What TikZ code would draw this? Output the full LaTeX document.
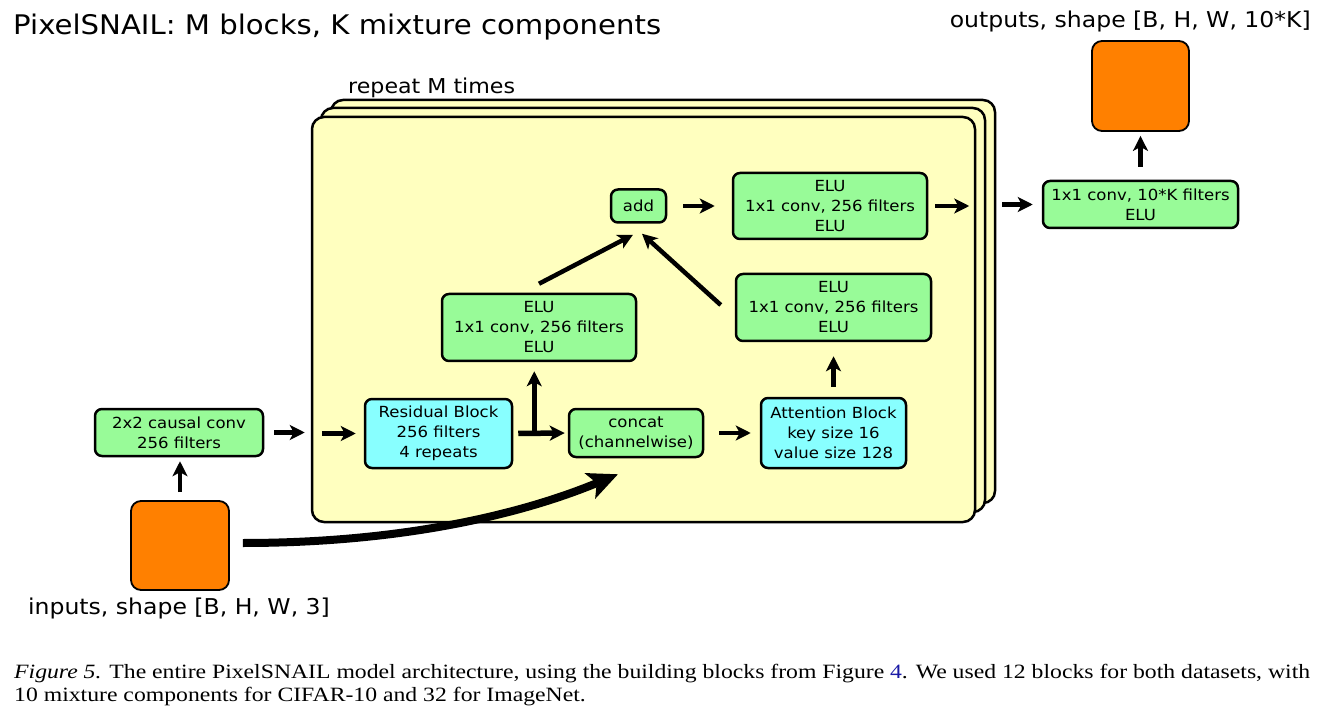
\documentclass[tikz,border=0pt]{standalone}
\usepackage{fontspec}
\usepackage{graphicx}
\setmainfont{Liberation Serif}
\newfontfamily\dv[FakeStretch=1.08]{DejaVu Sans}
\usetikzlibrary{arrows.meta,calc}
\definecolor{greenc}{HTML}{98FB98}
\definecolor{cyanc}{HTML}{88FFFF}
\definecolor{yellowc}{HTML}{FFFFBF}
\definecolor{orangec}{HTML}{FF8000}
\definecolor{linkblue}{HTML}{1A1AA6}
\newsavebox\capboxA
\begin{document}
\sbox\capboxA{\fontsize{20.3}{24}\selectfont\textit{Figure 5.} The entire PixelSNAIL model architecture, using the building blocks from Figure \textcolor{linkblue}{4}. We used 12 blocks for both datasets, with}%
\pgfmathsetmacro\capf{1296/\wd\capboxA}%
\begin{tikzpicture}[x=1pt,y=-1pt,
  box/.style={draw=black,line width=2.5pt,rounded corners=7pt,inner sep=0pt,align=center,font=\dv\fontsize{15.3}{20}\selectfont},
  gbox/.style={box,fill=greenc},
  cbox/.style={box,fill=cyanc},
  obox/.style={draw=black,line width=1.8pt,rounded corners=10pt,fill=orangec,inner sep=0pt},
  layer/.style={draw=black,line width=2.5pt,rounded corners=12pt,fill=yellowc,inner sep=0pt},
  arr/.style={line width=4.5pt,-{Stealth[length=15pt,width=15pt,inset=4pt]}},
  lbl/.style={inner sep=0pt,font=\dv\fontsize{20.5}{24}\selectfont},
  biglbl/.style={inner sep=0pt,font=\dv\fontsize{21.8}{26}\selectfont},
]
\useasboundingbox[fill=white] (0,0) rectangle (1331,719);

% stacked layers
\node[layer,minimum width=664pt,minimum height=403pt] (back) at (663,301.5) {};
\node[layer,minimum width=664pt,minimum height=404pt] (middle) at (653,310) {};
\node[layer,minimum width=663pt,minimum height=405pt] (front) at (643.5,319.5) {};

% boxes
\node[gbox,minimum width=168pt,minimum height=47pt] (causal) at (179,432.5) {2x2 causal conv\\256 filters};
\node[obox,minimum width=98pt,minimum height=89pt] (inorange) at (180,545.5) {};
\node[obox,minimum width=97pt,minimum height=90pt] (outorange) at (1140.5,86) {};
\node[gbox,minimum width=195pt,minimum height=47pt] (outconv) at (1140.5,204.5) {1x1 conv, 10*K filters\\ELU};
\node[gbox,minimum width=55pt,minimum height=33pt] (add) at (638.5,206) {add};
\node[gbox,minimum width=194pt,minimum height=66pt] (elutop) at (830,206) {ELU\\1x1 conv, 256 filters\\ELU};
\node[gbox,minimum width=194pt,minimum height=67pt] (eluleft) at (539,327.5) {ELU\\1x1 conv, 256 filters\\ELU};
\node[gbox,minimum width=195pt,minimum height=67pt] (eluright) at (833.5,307.5) {ELU\\1x1 conv, 256 filters\\ELU};
\node[cbox,minimum width=147pt,minimum height=69pt] (resid) at (438.5,433.5) {Residual Block\\256 filters\\4 repeats};
\node[gbox,minimum width=134pt,minimum height=48pt] (concat) at (636,433) {concat\\(channelwise)};
\node[cbox,minimum width=145pt,minimum height=70pt] (attn) at (833.5,433) {Attention Block\\key size 16\\value size 128};

% labels
\node[lbl,anchor=base west,font=\dv\fontsize{27}{32}\selectfont] (title) at (13,35) {PixelSNAIL: M blocks, K mixture components};
\node[lbl,anchor=base west] (rep) at (348,94) {repeat M times};
\node[biglbl,anchor=base east] (outl) at (1311,28) {outputs, shape [B, H, W, 10*K]};
\node[biglbl,anchor=base] (inl) at (179,614) {inputs, shape [B, H, W, 3]};

% connectors
\draw[arr,shorten <=16pt,shorten >=17pt] (add.east) -- (elutop.west);
\draw[arr,shorten <=7pt,shorten >=7pt] (elutop.east) -- (elutop.east -| front.east);
\draw[arr,shorten <=6pt,shorten >=9pt] (outconv.west -| back.east) -- (outconv.west);
\draw[arr,shorten <=13pt,shorten >=4pt] (outconv.north) -- (outorange.south);
\draw[arr,shorten <=8pt,shorten >=4pt] (inorange.north) -- (inorange.north |- causal.south);
\draw[arr,shorten <=10pt,shorten >=6pt] (causal.east) -- (causal.east -| front.west);
\draw[arr,shorten <=11pt,shorten >=8pt] (resid.west -| front.west) -- (resid.west);
\coordinate (junc) at ($(resid.east)+(21,0)$);
\draw[arr,line width=5.5pt,shorten <=5pt,shorten >=3pt] (resid.east) -- (concat.west);
\draw[arr,line width=5.5pt,shorten >=9pt] (junc) -- (junc |- eluleft.south);
\draw[arr,shorten <=15pt,shorten >=9pt] (concat.east) -- (concat.east -| attn.west);
\draw[arr,shorten <=10pt,shorten >=14pt] (attn.north) -- (eluright.south);
\draw[arr] ($(eluleft.north)+(0,-9)$) -- ($(add.south)+(-5.5,11)$);
\draw[arr] ($(eluright.west)+(-14,-2.5)$) -- ($(add.south)+(3.5,10)$);
\draw[line width=8pt,-{Stealth[length=30pt,width=27pt,inset=7pt]}] ($(inorange.east)+(13,-2.5)$) .. controls (400,543) and (520,515) .. ($(concat.south)+(-18,16)$);

% caption
\node[anchor=base west,inner sep=0pt] (cap1) at (14,678) {\scalebox{\capf}[1]{\usebox\capboxA}};
\node[anchor=base west,inner sep=0pt] (cap2) at (14,701) {\scalebox{\capf}[1]{\fontsize{20.3}{24}\selectfont 10 mixture components for CIFAR-10 and 32 for ImageNet.}};
\end{tikzpicture}
\end{document}
